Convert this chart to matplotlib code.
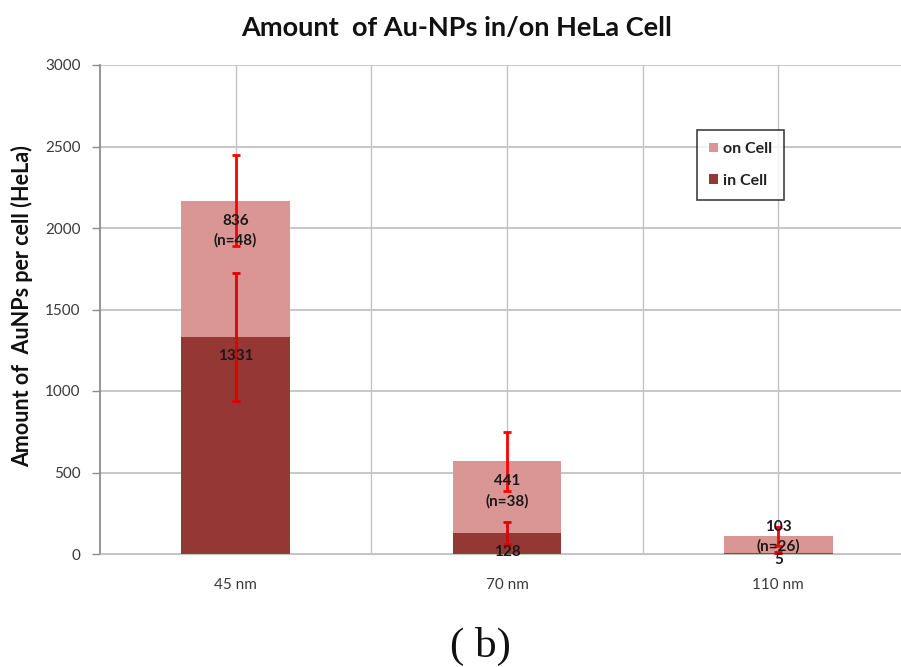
import matplotlib
matplotlib.use("Agg")
import matplotlib.pyplot as plt
from matplotlib.patches import Patch
import numpy as np

categories = ["45 nm", "70 nm", "110 nm"]
in_cell = [1331, 128, 5]
on_cell = [836, 441, 103]
in_cell_err = [390, 68, 10]
on_cell_err = [280, 180, 58]
n_counts = [48, 38, 26]
yticks = [0, 500, 1000, 1500, 2000, 2500, 3000]

DARK = "#953735"
LIGHT = "#d99694"
GRID = "#c3c3c3"
AXC = "#8c8c8c"
FONT = ["Lato", "DejaVu Sans"]

plt.rcParams['font.family'] = FONT

fig = plt.figure(figsize=(9.01, 6.67), dpi=100)
ax = fig.add_axes([100/901, 113/667, (914-100)/901, (554-65)/667])

x = np.arange(len(categories))
w = 0.4
ax.bar(x, in_cell, width=w, color=DARK, zorder=2, label="in Cell")
ax.bar(x, on_cell, width=w, bottom=in_cell, color=LIGHT, zorder=2, label="on Cell")
tops = np.array(in_cell) + np.array(on_cell)
ax.errorbar(x, tops, yerr=on_cell_err, fmt='none', ecolor="#ff0000", elinewidth=2,
            capsize=3, capthick=2, zorder=4)
ax.errorbar(x, in_cell, yerr=in_cell_err, fmt='none', ecolor="#e00000", elinewidth=2,
            capsize=3, capthick=2, zorder=4)

ax.set_xlim(-0.5, 2.5)
ax.set_ylim(0, 3000)
ax.set_yticks(yticks)
ax.set_yticklabels([str(v) for v in yticks], fontsize=11, color="#3a3a3a")
ax.set_xticks(x)
ax.set_xticklabels(categories, fontsize=11, color="#3a3a3a")
ax.set_xticks([0.5, 1.5], minor=True)
ax.grid(True, which='both', axis='x', color=GRID, lw=1, zorder=0)
ax.grid(True, which='major', axis='y', color=GRID, lw=1.3, zorder=0)
ax.tick_params(axis='x', which='both', length=0, pad=17)
ax.tick_params(axis='y', length=6, color=AXC, width=1, pad=8)
for s in ['top', 'right']:
    ax.spines[s].set_visible(False)
ax.spines['left'].set_color(AXC)
ax.spines['bottom'].set_color(GRID)
ax.spines['left'].set_linewidth(1.3)
ax.set_axisbelow(True)

# value labels
px_per_unit = (554 - 65) / 3000.0
LINE = 22  # px between lines
def place(xc, bottom, height, text):
    nlines = text.count("\n") + 1
    seg_px = height * px_per_unit
    block = 14 + (nlines - 1) * LINE
    top = bottom + height
    if seg_px >= block:
        # inside end: first line center 19 px below the segment top
        center_px = -19 - (nlines - 1) * LINE / 2
    else:
        # too small: label block sits around the segment top
        center_px = -(7 - (block - 14) * 7 / 22)
    ax.annotate(text, (xc, top), xytext=(0, center_px * 0.72), textcoords='offset points',
                ha='center', va='center', fontsize=11, fontweight='bold', color="#1a1a1a",
                linespacing=1.45, zorder=5)

for i in range(len(categories)):
    place(x[i], in_cell[i], on_cell[i], f"{on_cell[i]}\n(n={n_counts[i]})")
    place(x[i], 0, in_cell[i], f"{in_cell[i]}")

ax.set_ylabel("Amount of  AuNPs per cell (HeLa)", fontsize=15.5, fontweight='bold',
              color="#111111")
ax.yaxis.set_label_coords(-(100 - 33)/814, (554 - 306)/489)

fig.text(457/901, 1 - 28/667, "Amount  of Au-NPs in/on HeLa Cell", ha='center', va='center',
         fontsize=19.5, fontweight='bold', color="#111111")

fig.text(480/901, 1 - 646/667, "( b)", ha='center', va='center', fontsize=31,
         family=["Liberation Serif", "DejaVu Serif"], color="#111111")

handles = [Patch(facecolor=LIGHT, edgecolor='none', label="on Cell"),
           Patch(facecolor=DARK, edgecolor='none', label="in Cell")]
leg = fig.legend(handles=handles, loc='upper left', bbox_to_anchor=(697/901, 1 - 130/667),
                 frameon=True, fancybox=False, edgecolor="#111111", fontsize=11.5,
                 handlelength=0.55, handleheight=0.55, handletextpad=0.35, labelspacing=1.1,
                 borderpad=0.75, borderaxespad=0)
leg.get_frame().set_linewidth(1.2)
for t in leg.get_texts():
    t.set_fontweight('bold')
    t.set_color("#222222")

fig.savefig("out.png", dpi=100)
